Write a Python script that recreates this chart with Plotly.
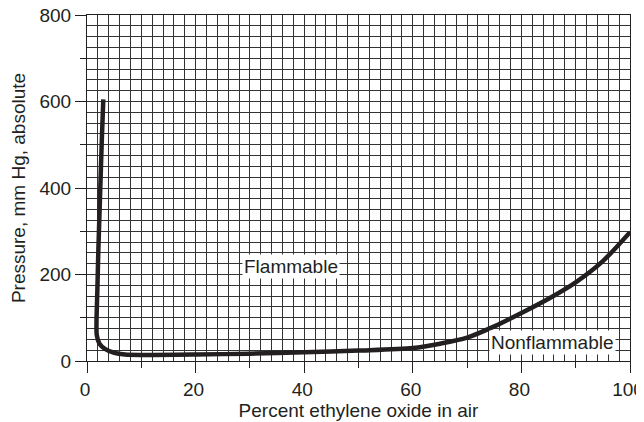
import plotly.graph_objects as go

# Flammability boundary of ethylene oxide in air
pct_eo = [3.0, 2.7, 2.4, 2.1, 1.9, 1.75, 1.8, 2.3, 3.3, 5.0, 7.0, 10, 20, 30, 40, 50, 60, 65, 70, 75, 80, 85, 90, 95, 100]
pressure = [605, 500, 380, 260, 160, 90, 60, 40, 28, 19, 15, 14, 15, 17, 20, 24, 30, 40, 54, 80, 111, 144, 182, 231, 298]

x_major = [0, 20, 40, 60, 80, 100]
x_minor_ticks = [10, 30, 50, 70, 90]
y_major = [0, 200, 400, 600, 800]
y_minor_ticks = [100, 300, 500, 700]

region_labels = ["Flammable", "Nonflammable"]
label_x = [37.6, 85.8]
label_y = [218, 43]

FONT = "Liberation Sans, Arial, Helvetica, sans-serif"
FS = 19
GRID = "#333333"
INK = "#231f20"

fig = go.Figure()
fig.add_trace(go.Scatter(
    x=pct_eo, y=pressure, mode="lines",
    line=dict(color=INK, width=4.5, shape="spline", smoothing=0.8),
    hoverinfo="skip", showlegend=False,
))
# invisible trace to anchor the secondary (short-tick) axes
fig.add_trace(go.Scatter(x=[0, 100], y=[0, 800], xaxis="x2", yaxis="y2",
                         mode="markers", marker=dict(opacity=0), showlegend=False,
                         hoverinfo="skip"))

for txt, xx, yy in zip(region_labels, label_x, label_y):
    fig.add_annotation(x=xx, y=yy, text=txt, showarrow=False,
                       font=dict(family=FONT, size=FS, color=INK),
                       bgcolor="white", borderpad=1)

fig.update_layout(
    width=644, height=422,
    margin=dict(l=79, r=22, t=7, b=69),
    paper_bgcolor="white", plot_bgcolor="white",
    font=dict(family=FONT, size=FS, color=INK),
    xaxis=dict(
        range=[0, 100], tickvals=x_major, ticks="outside", ticklen=11,
        tickcolor=INK, tickwidth=1, automargin=False,
        ticklabeloverflow="allow", ticklabelshift=-2,
        tickfont=dict(family=FONT, size=FS, color=INK),
        showgrid=True, gridcolor=GRID, gridwidth=1,
        minor=dict(dtick=2, tick0=0, showgrid=True, gridcolor=GRID, gridwidth=1, ticks=""),
        showline=True, linecolor=INK, linewidth=1, mirror=True,
        zeroline=False,
        title=dict(text="Percent ethylene oxide in air", standoff=4,
                   font=dict(family=FONT, size=FS, color=INK)),
    ),
    yaxis=dict(
        range=[0, 800], tickvals=y_major, ticks="outside", ticklen=11,
        tickcolor=INK, tickwidth=1, automargin=False,
        ticklabeloverflow="allow",
        tickfont=dict(family=FONT, size=FS, color=INK),
        showgrid=True, gridcolor=GRID, gridwidth=1,
        minor=dict(dtick=25, tick0=0, showgrid=True, gridcolor=GRID, gridwidth=1, ticks=""),
        showline=True, linecolor=INK, linewidth=1, mirror=True,
        zeroline=False,
        title=dict(text="Pressure, mm Hg, absolute", standoff=10,
                   font=dict(family=FONT, size=FS, color=INK)),
    ),
    xaxis2=dict(range=[0, 100], overlaying="x", anchor="y", side="bottom",
                tickvals=x_minor_ticks, ticks="outside", ticklen=6,
                tickcolor=INK, showticklabels=False, showgrid=False,
                zeroline=False, showline=False, automargin=False),
    yaxis2=dict(range=[0, 800], overlaying="y", anchor="x", side="left",
                tickvals=y_minor_ticks, ticks="outside", ticklen=6,
                tickcolor=INK, showticklabels=False, showgrid=False,
                zeroline=False, showline=False, automargin=False),
)

fig.write_html("out.html")
